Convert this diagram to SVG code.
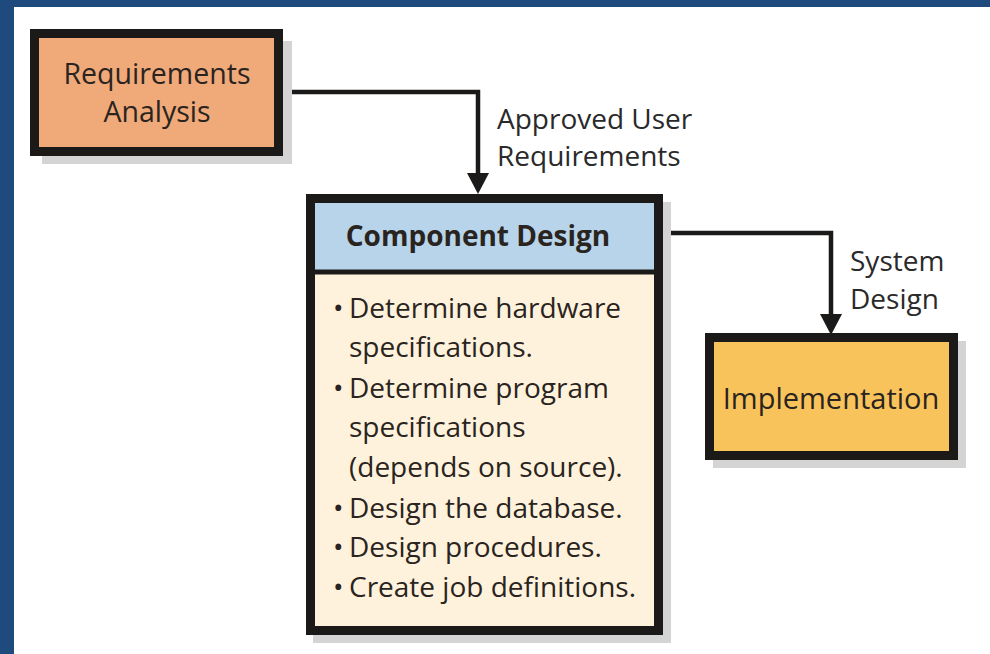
<svg xmlns="http://www.w3.org/2000/svg" width="990" height="654" viewBox="0 0 990 654">
<defs>
<style>
.frame{fill:#1f4a7e}
.shadow{fill:#d4d4d4}
.box{stroke:#1c1a19;stroke-width:9}
.t{font-family:"Open Sans","Liberation Sans",sans-serif;fill:#2a2420}
.lbl{font-family:"Open Sans","Liberation Sans",sans-serif;fill:#2a2a2a;font-size:28px}
.conn{fill:none;stroke:#1c1a19;stroke-width:4.5}
</style>
</defs>
<rect width="990" height="654" fill="#ffffff"/>
<rect class="frame" x="0" y="0" width="990" height="7"/>
<rect class="frame" x="0" y="0" width="14" height="654"/>

<g id="connectors">
<path class="conn" d="M283,92 H478 V174"/>
<path class="conn" d="M663,233 H831 V315"/>
<polygon points="467,173 489,173 478,194" fill="#1c1a19"/>
<polygon points="820,314 842,314 831,335" fill="#1c1a19"/>
<text class="lbl" x="497" y="129">Approved User</text>
<text class="lbl" x="497" y="166">Requirements</text>
<text class="lbl" x="850" y="271">System</text>
<text class="lbl" x="850" y="309">Design</text>
</g>

<g id="requirements-analysis">
<rect class="shadow" x="42" y="41" width="250" height="123"/>
<rect class="box" x="34.5" y="33.5" width="244" height="118" fill="#f0a979"/>
<text class="t" font-size="28.5" text-anchor="middle" x="157" y="84">Requirements</text>
<text class="t" font-size="28.5" text-anchor="middle" x="157" y="122">Analysis</text>
</g>

<g id="component-design">
<rect class="shadow" x="313" y="202" width="358" height="441"/>
<rect class="box" x="310.5" y="198.5" width="348" height="432" fill="#fff2dc"/>
<rect x="315" y="203" width="339" height="67" fill="#b7d4ea"/>
<line x1="310" y1="272" x2="659" y2="272" stroke="#1c1a19" stroke-width="5"/>
<text class="t" font-size="28" font-weight="bold" text-anchor="middle" x="478" y="246" fill="#1e2a36">Component Design</text>
<g class="t" font-size="28">
<text x="333" y="318">•</text><text x="349" y="318">Determine hardware</text>
<text x="349" y="357">specifications.</text>
<text x="333" y="398">•</text><text x="349" y="398">Determine program</text>
<text x="349" y="437">specifications</text>
<text x="349" y="477">(depends on source).</text>
<text x="333" y="518">•</text><text x="349" y="518">Design the database.</text>
<text x="333" y="557">•</text><text x="349" y="557">Design procedures.</text>
<text x="333" y="597">•</text><text x="349" y="597">Create job definitions.</text>
</g>
</g>

<g id="implementation">
<rect class="shadow" x="713" y="341" width="253" height="127"/>
<rect class="box" x="709.5" y="337.5" width="244" height="118" fill="#f9c35c"/>
<text class="t" font-size="29" text-anchor="middle" x="831" y="409">Implementation</text>
</g>
</svg>
